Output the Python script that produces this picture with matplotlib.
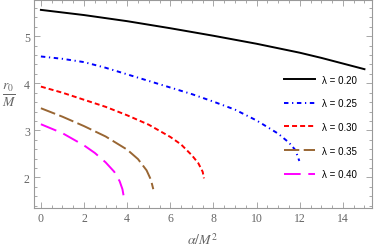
import matplotlib
matplotlib.use("Agg")
import matplotlib.pyplot as plt
from matplotlib.ticker import MultipleLocator

plt.rcParams['mathtext.fontset'] = 'stix'
plt.rcParams['lines.scale_dashes'] = False

# curves r0/M vs alpha/M^2 for each lambda
x_020 = [0, 2, 4, 6, 8, 10, 12, 13, 14, 15]
y_020 = [5.56, 5.45, 5.32, 5.17, 5.01, 4.84, 4.65, 4.54, 4.42, 4.30]

x_025 = [0, 1, 2, 3, 4, 5, 6, 7, 8, 9, 10, 11, 11.5, 11.8, 11.98]
y_025 = [4.57, 4.52, 4.45, 4.33, 4.19, 4.05, 3.91, 3.77, 3.61, 3.44, 3.21, 2.93, 2.74, 2.58, 2.35]

x_030 = [0, 1, 2, 3, 4, 5, 6, 6.5, 7, 7.3, 7.5, 7.56]
y_030 = [3.93, 3.80, 3.65, 3.50, 3.32, 3.12, 2.86, 2.70, 2.47, 2.30, 2.12, 1.98]

x_035 = [0, 1, 2, 3, 4, 4.5, 4.9, 5.1, 5.21]
y_035 = [3.47, 3.29, 3.09, 2.87, 2.59, 2.39, 2.15, 1.95, 1.75]

x_040 = [0, 1, 2, 2.5, 3, 3.4, 3.65, 3.78, 3.85]
y_040 = [3.13, 2.94, 2.68, 2.52, 2.32, 2.12, 1.92, 1.75, 1.57]

labels = ["λ = 0.20", "λ = 0.25", "λ = 0.30", "λ = 0.35", "λ = 0.40"]

fig = plt.figure(figsize=(3.74, 2.53), dpi=100)
ax = fig.add_axes([34/374, 1 - 209/253, 338/374, 208/253])

ax.plot(x_020, y_020, color='black', lw=1.4, label=labels[0])
ax.plot(x_025, y_025, color='#0000ff', lw=1.4, dashes=(3.2, 2.6, 0.9, 2.6), label=labels[1])
ax.plot(x_030, y_030, color='#ff0000', lw=1.4, dashes=(3.6, 2.2), label=labels[2])
ax.plot(x_035, y_035, color='#996633', lw=1.4, dashes=(11, 3.2), label=labels[3])
ax.plot(x_040, y_040, color='#ff00ff', lw=1.4, dashes=(12, 5.5), label=labels[4])

ax.set_xlim(-0.32, 15.35)
ax.set_ylim(1.35, 5.77)

ax.xaxis.set_major_locator(MultipleLocator(2))
ax.xaxis.set_minor_locator(MultipleLocator(0.5))
ax.yaxis.set_major_locator(MultipleLocator(1))
ax.yaxis.set_minor_locator(MultipleLocator(0.2))

gray = '#999999'
for s in ax.spines.values():
    s.set_color(gray)
    s.set_linewidth(0.8)
ax.tick_params(which='both', direction='in', top=True, right=True, color=gray,
               labelcolor='#666666', labelsize=8.5, width=0.6)
ax.tick_params(which='major', length=4, pad=3)
ax.tick_params(which='minor', length=2)
for t in ax.get_xticklabels() + ax.get_yticklabels():
    t.set_fontfamily('Liberation Serif')

ax.set_xlabel(r'$\alpha/M^2$', fontsize=10, color='#666666', labelpad=5)
fig.text(9/374, 1 - 95/253, r'$\frac{r_0}{M}$', fontsize=14, color='#666666',
         ha='center', va='center')

leg = ax.legend(loc='upper left', bbox_to_anchor=(0.741, 0.641), frameon=False,
                prop={'family': 'Liberation Sans', 'size': 7},
                handlelength=3.1, handletextpad=0.8, labelspacing=1.4,
                borderpad=0, borderaxespad=0)

fig.savefig('out.png', dpi=100)
